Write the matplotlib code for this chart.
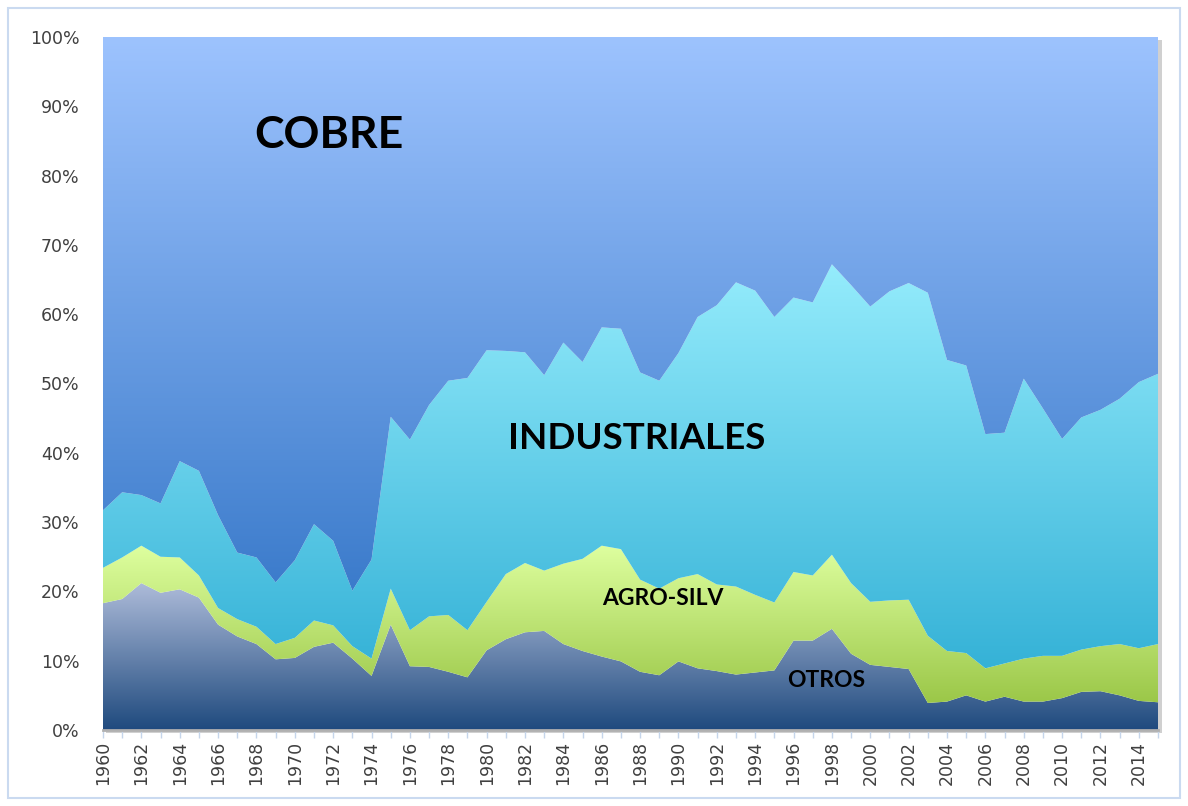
import numpy as np
import matplotlib.pyplot as plt
from matplotlib.colors import LinearSegmentedColormap
from matplotlib.patches import Rectangle

# Shares (%) by year
years = np.arange(1960, 2016)

otros = np.array([18.3, 18.9, 21.2, 19.8, 20.3, 19.1, 15.2, 13.5, 12.4, 10.2,
                  10.4, 12.0, 12.6, 10.3, 7.8, 15.2, 9.2, 9.1, 8.4, 7.6,
                  11.5, 13.1, 14.1, 14.3, 12.4, 11.4, 10.6, 9.9, 8.4, 7.9,
                  9.9, 8.9, 8.5, 8.0, 8.3, 8.6, 12.9, 12.9, 14.6, 11.0,
                  9.4, 9.1, 8.8, 3.9, 4.1, 5.0, 4.1, 4.8, 4.1, 4.1,
                  4.6, 5.5, 5.6, 5.0, 4.2, 4.0])

agro = np.array([5.1, 6.0, 5.4, 5.2, 4.6, 3.2, 2.4, 2.5, 2.5, 2.2,
                 2.9, 3.8, 2.5, 1.8, 2.5, 5.2, 5.2, 7.3, 8.2, 6.8,
                 7.0, 9.4, 10.0, 8.7, 11.6, 13.3, 16.0, 16.2, 13.3, 12.5,
                 12.0, 13.6, 12.5, 12.7, 11.2, 9.8, 9.9, 9.4, 10.7, 10.2,
                 9.1, 9.6, 10.0, 9.7, 7.3, 6.1, 4.8, 4.8, 6.2, 6.6,
                 6.1, 6.1, 6.5, 7.4, 7.6, 8.4])

industriales = np.array([8.3, 9.4, 7.3, 7.7, 13.9, 15.1, 13.4, 9.6, 10.0, 8.9,
                         11.2, 13.9, 12.2, 8.0, 14.3, 24.8, 27.5, 30.5, 33.8, 36.4,
                         36.3, 32.2, 30.4, 28.2, 31.9, 28.4, 31.5, 31.8, 29.9, 30.0,
                         32.5, 37.1, 40.3, 43.9, 43.9, 41.2, 39.6, 39.4, 41.9, 43.0,
                         42.6, 44.6, 45.7, 49.5, 42.0, 41.5, 33.8, 33.3, 40.4, 35.7,
                         31.3, 33.5, 34.1, 35.4, 38.4, 39.0])

cobre = 100 - otros - agro - industriales

series = [
    ("OTROS", otros, "#ADBBD9", "#1F4A7E"),
    ("AGRO-SILV", agro, "#DEFF9F", "#9BC748"),
    ("INDUSTRIALES", industriales, "#95ECFC", "#35B2D7"),
    ("COBRE", cobre, "#9DC3FE", "#3B7BCB"),
]


def gradient_area(ax, x, lo, hi, c_top, c_bot, z):
    poly = ax.fill_between(x, lo, hi, facecolor="none", edgecolor="none")
    path = poly.get_paths()[0]
    cmap = LinearSegmentedColormap.from_list("g", [c_bot, c_top])
    grad = np.linspace(0, 1, 256).reshape(-1, 1)
    im = ax.imshow(grad, cmap=cmap, aspect="auto", origin="lower",
                   extent=[x[0], x[-1], lo.min(), hi.max()],
                   interpolation="bilinear", zorder=z)
    im.set_clip_path(path, transform=ax.transData)


fig = plt.figure(figsize=(11.88, 8.06), dpi=100)
fig.patches.append(Rectangle((8 / 1188, 8 / 806), 1172 / 1188, 790 / 806,
                             transform=fig.transFigure, fill=False,
                             edgecolor="#CADAF0", linewidth=1.5, zorder=-2))
# soft shadow of the plot area
fig.patches.append(Rectangle((106 / 1188, 1 - 733 / 806), 1056 / 1188, 693 / 806,
                             transform=fig.transFigure, facecolor="#D0D0D0",
                             edgecolor="none", zorder=-1))
ax = fig.add_axes([103 / 1188, 1 - 730 / 806, 1055 / 1188, 693 / 806])
ax.set_zorder(1)

bottom = np.zeros(len(years))
for i, (name, vals, ctop, cbot) in enumerate(series):
    top = bottom + vals
    gradient_area(ax, years, bottom, top, ctop, cbot, 1 + i)
    bottom = top

ax.set_xlim(1960, 2015)
ax.set_ylim(0, 100)

ax.set_yticks(np.arange(0, 101, 10))
ax.set_yticklabels([f"{v}%" for v in range(0, 101, 10)])
ax.set_xticks(years[::2])
ax.set_xticklabels([str(y) for y in years[::2]], rotation=90)
ax.set_xticks(years, minor=True)

ax.tick_params(axis="y", length=0, pad=17, labelsize=12.5, labelcolor="#404040")
ax.tick_params(axis="x", which="both", length=6, width=1, color="#C5D5EA",
               labelsize=12.5, labelcolor="#404040", pad=2)

for s in ["left", "right", "top"]:
    ax.spines[s].set_visible(False)
ax.spines["bottom"].set_color("#B0B0B0")
ax.spines["bottom"].set_linewidth(2)
ax.spines["bottom"].set_zorder(10)

lbl = dict(family=["Lato", "DejaVu Sans"], fontweight="bold", color="black",
           ha="center", va="center", zorder=20)
ax.text(1971.8, 85.9, "COBRE", fontsize=32, **lbl)
ax.text(1987.8, 42.1, "INDUSTRIALES", fontsize=26.5, **lbl)
ax.text(1989.2, 19.0, "AGRO-SILV", fontsize=16.5, **lbl)
ax.text(1997.7, 7.2, "OTROS", fontsize=16.5, **lbl)

plt.savefig("out.png", dpi=100)
